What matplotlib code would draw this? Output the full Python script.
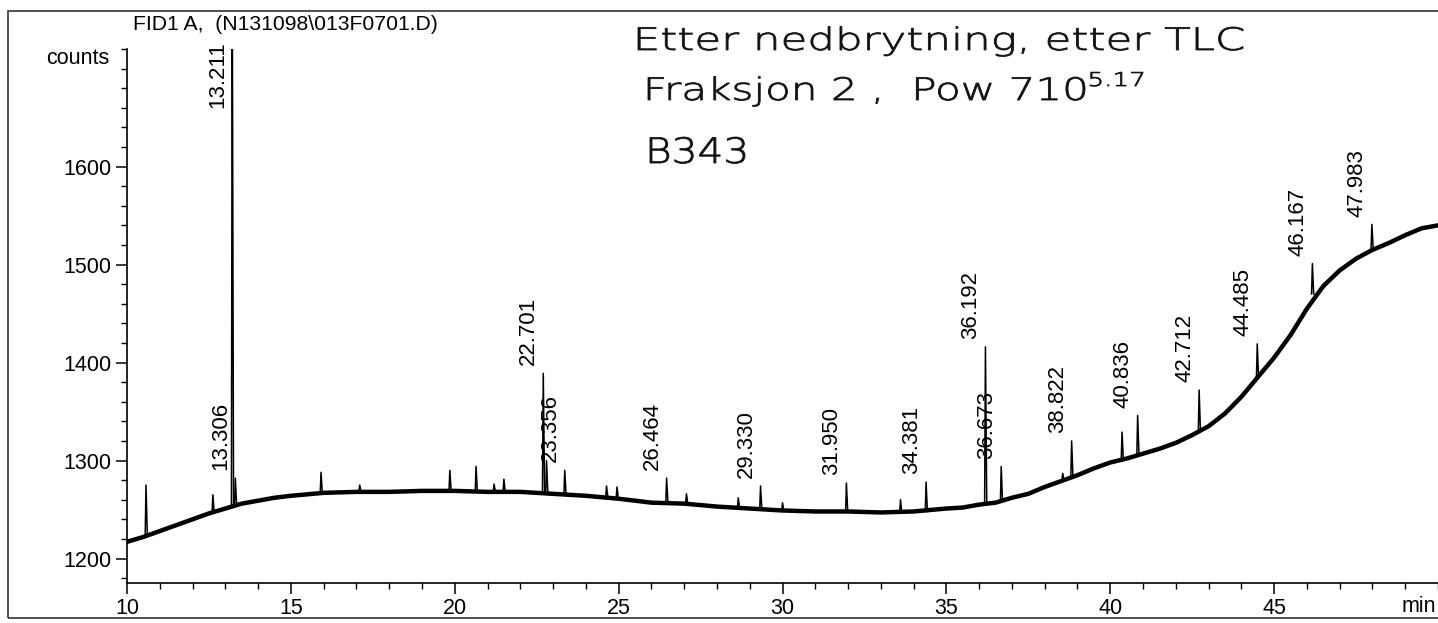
import numpy as np
import matplotlib
matplotlib.use('Agg')
import matplotlib.pyplot as plt
from matplotlib.patches import Rectangle, PathPatch
from matplotlib.textpath import TextPath
from matplotlib.font_manager import FontProperties
from matplotlib.transforms import Affine2D

# baseline of the FID trace (time in min, counts)
base_t = [10.0, 10.5, 11.0, 11.5, 12.0, 12.5, 13.0, 13.5, 14.0, 14.5, 15.0, 16.0, 17.0,
          18.0, 19.0, 20.0, 21.0, 22.0, 23.0, 24.0, 25.0, 26.0, 27.0, 28.0, 29.0, 30.0,
          31.0, 32.0, 33.0, 34.0, 35.0, 35.5, 36.0, 36.5, 37.0, 37.5, 38.0, 38.5, 39.0,
          39.5, 40.0, 40.5, 41.0, 41.5, 42.0, 42.5, 43.0, 43.5, 44.0, 44.5, 45.0, 45.5,
          46.0, 46.5, 47.0, 47.5, 48.0, 48.5, 49.0, 49.5, 50.0]
base_c = [1217, 1222, 1228, 1234, 1240, 1246, 1251, 1256, 1259, 1262, 1264, 1267, 1268,
          1268, 1269, 1269, 1268, 1268, 1266, 1264, 1261, 1257, 1256, 1253, 1251, 1249,
          1248, 1248, 1247, 1248, 1251, 1252, 1255, 1257, 1262, 1266, 1273, 1279, 1285,
          1292, 1298, 1302, 1307, 1312, 1318, 1326, 1335, 1348, 1365, 1385, 1405, 1428,
          1455, 1478, 1494, 1506, 1515, 1522, 1530, 1537, 1540]

# peaks: retention time, counts at the foot, counts at the apex
peak_rt = [10.58, 12.62, 13.211, 13.306, 15.92, 17.10, 19.85, 20.65, 21.20, 21.50,
           22.701, 22.80, 23.356, 24.63, 24.95, 26.464, 27.07, 28.65, 29.330, 30.00,
           31.950, 33.60, 34.381, 36.192, 36.673, 38.55, 38.822, 40.36, 40.836, 42.712,
           44.485, 46.167, 47.983]
peak_base = [1224, 1247, 1253, 1254, 1267, 1268, 1269, 1268, 1268, 1268,
             1268, 1267, 1266, 1263, 1262, 1257, 1256, 1252, 1250, 1249,
             1248, 1247, 1248, 1256, 1258, 1279, 1283, 1301, 1306, 1330,
             1385, 1470, 1516]
peak_top = [1275, 1265, 1800, 1282, 1288, 1275, 1290, 1294, 1276, 1281,
            1389, 1300, 1290, 1274, 1273, 1282, 1266, 1262, 1274, 1257,
            1277, 1260, 1278, 1416, 1294, 1287, 1320, 1329, 1346, 1372,
            1419, 1501, 1541]

labelled = ['13.211', '13.306', '22.701', '23.356', '26.464', '29.330', '31.950', '34.381',
            '36.192', '36.673', '38.822', '40.836', '42.712', '44.485', '46.167', '47.983']

# note written on the print-out
note_text = ['Etter nedbrytning, etter TLC', 'Fraksjon 2 ,  Pow 710', '5.17', 'B343']

W, H = 1438, 623
fig = plt.figure(figsize=(W / 100, H / 100), dpi=100)
plt.rcParams['font.family'] = ['Liberation Sans', 'DejaVu Sans']

ax = fig.add_axes([127 / W, 1 - 583 / H, 1 - 127 / W, (583 - 49) / H])
ax.set_xlim(10, 50)
ax.set_ylim(1175, 1720)

ax.plot(base_t, base_c, color='black', lw=3.2, solid_joinstyle='round')
for rt, b, t in zip(peak_rt, peak_base, peak_top):
    ax.plot([rt - 0.025, rt, rt + 0.04], [b, t, b], color='black', lw=1.1)

for rt, t in zip(peak_rt, peak_top):
    lab = '%.3f' % rt
    if lab in labelled:
        ypos = min(t, 1652) + 8
        ax.annotate(lab, (rt, ypos), xytext=(-4, 0), textcoords='offset pixels',
                    rotation=90, ha='right', va='bottom', fontsize=16)

for s in ['top', 'right']:
    ax.spines[s].set_visible(False)
ax.spines['left'].set_linewidth(1.2)
ax.spines['bottom'].set_linewidth(1.2)

ax.set_xticks(np.arange(10, 50, 5))
ax.set_xticks(np.arange(10, 51, 1), minor=True)
ax.set_yticks([1200, 1300, 1400, 1500, 1600])
ax.set_yticks(np.arange(1180, 1721, 20), minor=True)
ax.tick_params(which='major', length=8, width=1.1, labelsize=15.5, pad=3)
ax.tick_params(which='minor', length=4, width=1.0)

ax.annotate('counts', (0, 1710), xycoords=('axes fraction', 'data'), xytext=(-18, 0),
            textcoords='offset pixels', ha='right', va='center', fontsize=15.5)
fig.text(1402 / W, 1 - 607 / H, 'min', ha='left', va='center', fontsize=15.5)
fig.text(133 / W, 1 - 24 / H, 'FID1 A,  (N131098\\013F0701.D)', ha='left', va='center',
         fontsize=15.2)

# sheet border
fig.add_artist(Rectangle((8 / W, 1 - 618 / H), 1.2, (618 - 11) / H, transform=fig.transFigure,
                         fill=False, edgecolor='#333333', lw=1.2))


def scrawl(txt, x0, x1, baseline, em):
    # thin text stretched sideways so it spans x0..x1 (pixels from the left/top)
    path = TextPath((0, 0), txt, size=em, prop=FontProperties(family='DejaVu Sans', weight='light'))
    ext = path.get_extents()
    sx = (x1 - x0) / ext.width
    tr = Affine2D().translate(-ext.x0, 0).scale(sx, 1).translate(x0, H - baseline)
    fig.add_artist(PathPatch(path, transform=tr, facecolor='#111111', edgecolor='#111111', lw=0.6))


scrawl(note_text[0], 638, 1243, 50, 31)
scrawl(note_text[1], 648, 1085, 100, 31)
scrawl(note_text[2], 1090, 1143, 86, 19)
scrawl(note_text[3], 650, 745, 163, 35)

fig.savefig('out.png', dpi=100)
